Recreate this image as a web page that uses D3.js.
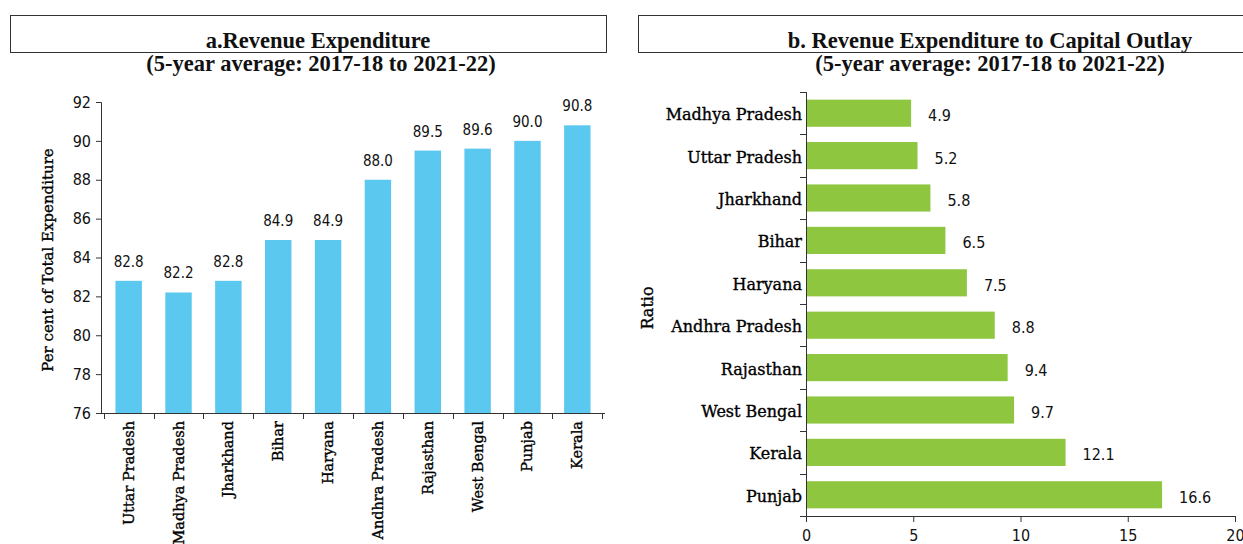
<!DOCTYPE html>
<html>
<head>
<meta charset="utf-8">
<script src="https://cdn.jsdelivr.net/npm/d3@7"></script>
<style>
  body { margin: 0; background: #fff; }
  svg { display: block; }
  .title { font-family: "Liberation Serif", serif; font-weight: bold; font-size: 22.5px; fill: #111; }
  .cat { font-family: "DejaVu Serif", serif; fill: #000; stroke: #000; stroke-width: 0.35px; }
  .num { font-family: "DejaVu Sans", sans-serif; font-stretch: condensed; fill: #111; }
  .axis path, .axis line { stroke: #333; }
</style>
</head>
<body>
<div id="chart"></div>
<script>
// panel a: revenue expenditure, per cent of total expenditure
const statesA = ["Uttar Pradesh", "Madhya Pradesh", "Jharkhand", "Bihar", "Haryana",
                 "Andhra Pradesh", "Rajasthan", "West Bengal", "Punjab", "Kerala"];
const revExp = [82.8, 82.2, 82.8, 84.9, 84.9, 88.0, 89.5, 89.6, 90.0, 90.8];
const ticksA = [76, 78, 80, 82, 84, 86, 88, 90, 92];

// panel b: revenue expenditure to capital outlay ratio
const statesB = ["Madhya Pradesh", "Uttar Pradesh", "Jharkhand", "Bihar", "Haryana",
                 "Andhra Pradesh", "Rajasthan", "West Bengal", "Kerala", "Punjab"];
const ratio = [4.9, 5.2, 5.8, 6.5, 7.5, 8.8, 9.4, 9.7, 12.1, 16.6];
const ticksB = [0, 5, 10, 15, 20];

const subtitle = "(5-year average: 2017-18 to 2021-22)";

const svg = d3.select("#chart").append("svg")
    .attr("width", 1243)
    .attr("height", 544);

// ---------- panel a ----------
svg.append("rect")
    .attr("x", 10.5).attr("y", 15.5).attr("width", 596).attr("height", 37)
    .attr("fill", "none").attr("stroke", "#333");
svg.append("text").attr("class", "title")
    .attr("x", 318).attr("y", 48).attr("text-anchor", "middle")
    .text("a.Revenue Expenditure");
svg.append("text").attr("class", "title")
    .attr("x", 321).attr("y", 71).attr("text-anchor", "middle")
    .text(subtitle);

const xA = d3.scaleBand().domain(statesA).range([101, 605]).paddingInner(0.47).paddingOuter(0.29);
const yA = d3.scaleLinear().domain([76, 92]).range([413, 102]);

const gA = svg.append("g");
gA.selectAll("rect.bar")
    .data(statesA)
    .enter().append("rect")
    .attr("class", "bar")
    .attr("x", d => xA(d))
    .attr("width", xA.bandwidth())
    .attr("y", (d, i) => yA(revExp[i]))
    .attr("height", (d, i) => yA(76) - yA(revExp[i]))
    .attr("fill", "#5bc8f0");

gA.selectAll("text.val")
    .data(statesA)
    .enter().append("text")
    .attr("class", "num")
    .style("font-size", "15px")
    .attr("x", d => xA(d) + xA.bandwidth() / 2)
    .attr("y", (d, i) => yA(revExp[i]) - 14)
    .attr("text-anchor", "middle")
    .text((d, i) => revExp[i].toFixed(1));

// y axis
const yAxisA = svg.append("g").attr("class", "axis")
    .attr("transform", "translate(101,0)")
    .call(d3.axisLeft(yA).tickValues(ticksA).tickSize(5).tickSizeOuter(5));
yAxisA.selectAll("text").attr("class", "num").attr("font-size", null).attr("font-family", null)
    .style("font-size", "16px").attr("x", -10);

// x axis with ticks between bands
const stepA = xA.step();
const edgeA = i => Math.round(xA(statesA[0]) - xA.paddingInner() * stepA / 2 + i * stepA) + 0.5;
const xAxisA = svg.append("g").attr("class", "axis");
xAxisA.append("line").attr("x1", 101).attr("x2", 605).attr("y1", 413.5).attr("y2", 413.5).attr("stroke", "#333");
xAxisA.selectAll("line.tk")
    .data(d3.range(statesA.length + 1))
    .enter().append("line")
    .attr("x1", i => edgeA(i))
    .attr("x2", i => edgeA(i))
    .attr("y1", 413).attr("y2", 419).attr("stroke", "#333");
xAxisA.selectAll("text")
    .data(statesA)
    .enter().append("text")
    .attr("class", "cat")
    .style("font-size", "14.5px")
    .attr("transform", d => `translate(${xA(d) + xA.bandwidth() / 2 + 5},421) rotate(-90)`)
    .attr("text-anchor", "end")
    .text(d => d);

svg.append("text").attr("class", "cat")
    .style("font-size", "15px")
    .attr("transform", "translate(53,260) rotate(-90)")
    .attr("text-anchor", "middle")
    .text("Per cent of Total Expenditure");

// ---------- panel b ----------
svg.append("rect")
    .attr("x", 638.5).attr("y", 15.5).attr("width", 620).attr("height", 37)
    .attr("fill", "none").attr("stroke", "#333");
svg.append("text").attr("class", "title")
    .attr("x", 990).attr("y", 48).attr("text-anchor", "middle")
    .text("b. Revenue Expenditure to Capital Outlay");
svg.append("text").attr("class", "title")
    .attr("x", 990).attr("y", 71).attr("text-anchor", "middle")
    .text(subtitle);

const yB = d3.scaleBand().domain(statesB).range([92, 516]).paddingInner(0.36).paddingOuter(0.18);
const xB = d3.scaleLinear().domain([0, 20]).range([806, 1235]);

const gB = svg.append("g");
gB.selectAll("rect.bar")
    .data(statesB)
    .enter().append("rect")
    .attr("class", "bar")
    .attr("x", xB(0))
    .attr("y", d => yB(d))
    .attr("height", yB.bandwidth())
    .attr("width", (d, i) => xB(ratio[i]) - xB(0))
    .attr("fill", "#8ec63f");

gB.selectAll("text.val")
    .data(statesB)
    .enter().append("text")
    .attr("class", "num")
    .style("font-size", "16px")
    .attr("x", (d, i) => xB(ratio[i]) + 17)
    .attr("y", d => yB(d) + yB.bandwidth() / 2 + 8)
    .text((d, i) => ratio[i].toFixed(1));

const xAxisB = svg.append("g").attr("class", "axis")
    .attr("transform", "translate(0,516)")
    .call(d3.axisBottom(xB).tickValues(ticksB).tickSize(6).tickSizeOuter(0));
xAxisB.select("path").attr("d", "M806,0.5H1235");
xAxisB.selectAll("text").attr("class", "num").attr("font-size", null).attr("font-family", null)
    .style("font-size", "16px").attr("y", 14);

// y axis with ticks between bands
const stepB = yB.step();
const edgeB = i => Math.round(yB(statesB[0]) - yB.paddingInner() * stepB / 2 + i * stepB) + 0.5;
const yAxisB = svg.append("g").attr("class", "axis");
yAxisB.append("line").attr("x1", 806.5).attr("x2", 806.5).attr("y1", 92).attr("y2", 516).attr("stroke", "#333");
yAxisB.selectAll("line.tk")
    .data(d3.range(statesB.length + 1))
    .enter().append("line")
    .attr("y1", i => edgeB(i))
    .attr("y2", i => edgeB(i))
    .attr("x1", 800).attr("x2", 806).attr("stroke", "#333");
yAxisB.selectAll("text")
    .data(statesB)
    .enter().append("text")
    .attr("class", "cat")
    .style("font-size", "16px")
    .attr("x", 802)
    .attr("y", d => yB(d) + yB.bandwidth() / 2 + 7)
    .attr("text-anchor", "end")
    .text(d => d);

svg.append("text").attr("class", "cat")
    .style("font-size", "16px")
    .attr("transform", "translate(653,308) rotate(-90)")
    .attr("text-anchor", "middle")
    .text("Ratio");
</script>
</body>
</html>
